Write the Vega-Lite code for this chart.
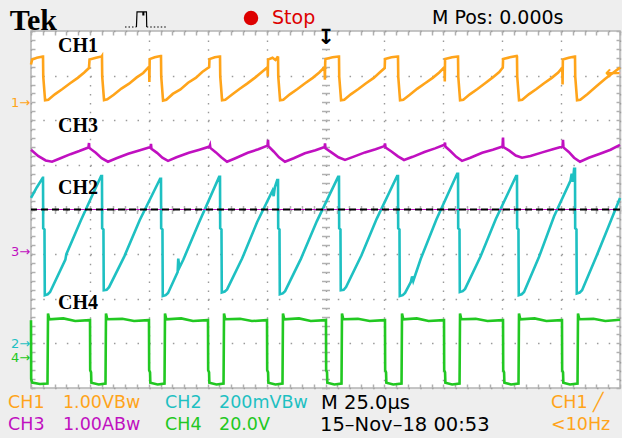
{
  "$schema": "https://vega.github.io/schema/vega-lite/v6.json",
  "width": 589,
  "height": 357,
  "autosize": {"type": "none"},
  "padding": {"left": 31, "top": 31, "right": 2, "bottom": 50},
  "background": "#eeeeee",
  "config": {
    "view": {"fill": "#ffffff", "stroke": "#b4b4b4", "strokeWidth": 1.5},
    "axis": {"labels": false, "domain": false, "ticks": false, "grid": false, "zindex": 0, "tickColor": "#b0b0b0", "tickWidth": 1.5, "gridColor": "#9a9a9a", "gridWidth": 1.4}
  },
  "datasets": {
    "waves": [
      {"ch":"CH1","t":0.0,"v":3.25},{"ch":"CH1","t":0.02,"v":3.36},{"ch":"CH1","t":0.1,"v":3.4},{"ch":"CH1","t":0.2,"v":3.43},
      {"ch":"CH1","t":0.204,"v":3.43},{"ch":"CH1","t":0.208,"v":2.98},{"ch":"CH1","t":0.239,"v":2.45},{"ch":"CH1","t":0.294,"v":2.46},{"ch":"CH1","t":0.404,"v":2.58},{"ch":"CH1","t":0.534,"v":2.7},{"ch":"CH1","t":0.664,"v":2.83},{"ch":"CH1","t":0.794,"v":2.95},{"ch":"CH1","t":0.904,"v":3.07},{"ch":"CH1","t":0.984,"v":3.17},{"ch":"CH1","t":0.994,"v":3.36},{"ch":"CH1","t":1.104,"v":3.4},{"ch":"CH1","t":1.2,"v":3.43},
      {"ch":"CH1","t":1.205,"v":3.44},{"ch":"CH1","t":1.209,"v":2.98},{"ch":"CH1","t":1.24,"v":2.45},{"ch":"CH1","t":1.295,"v":2.47},{"ch":"CH1","t":1.405,"v":2.57},{"ch":"CH1","t":1.535,"v":2.71},{"ch":"CH1","t":1.665,"v":2.82},{"ch":"CH1","t":1.795,"v":2.96},{"ch":"CH1","t":1.905,"v":3.06},{"ch":"CH1","t":2.005,"v":3.2},{"ch":"CH1","t":2.01,"v":2.86},{"ch":"CH1","t":2.015,"v":3.37},{"ch":"CH1","t":2.1,"v":3.41},{"ch":"CH1","t":2.2,"v":3.44},
      {"ch":"CH1","t":2.207,"v":3.44},{"ch":"CH1","t":2.211,"v":2.98},{"ch":"CH1","t":2.242,"v":2.44},{"ch":"CH1","t":2.297,"v":2.46},{"ch":"CH1","t":2.407,"v":2.59},{"ch":"CH1","t":2.537,"v":2.69},{"ch":"CH1","t":2.667,"v":2.84},{"ch":"CH1","t":2.797,"v":2.95},{"ch":"CH1","t":2.907,"v":3.08},{"ch":"CH1","t":3.025,"v":3.19},{"ch":"CH1","t":3.03,"v":3.37},{"ch":"CH1","t":3.12,"v":3.41},{"ch":"CH1","t":3.205,"v":3.43},
      {"ch":"CH1","t":3.209,"v":3.43},{"ch":"CH1","t":3.213,"v":2.98},{"ch":"CH1","t":3.244,"v":2.45},{"ch":"CH1","t":3.299,"v":2.46},{"ch":"CH1","t":3.409,"v":2.57},{"ch":"CH1","t":3.539,"v":2.7},{"ch":"CH1","t":3.669,"v":2.82},{"ch":"CH1","t":3.799,"v":2.95},{"ch":"CH1","t":3.909,"v":3.07},{"ch":"CH1","t":4.015,"v":3.19},{"ch":"CH1","t":4.02,"v":2.98},{"ch":"CH1","t":4.025,"v":3.36},{"ch":"CH1","t":4.1,"v":3.4},{"ch":"CH1","t":4.15,"v":3.35},{"ch":"CH1","t":4.19,"v":3.42},
      {"ch":"CH1","t":4.194,"v":3.43},{"ch":"CH1","t":4.198,"v":2.98},{"ch":"CH1","t":4.229,"v":2.45},{"ch":"CH1","t":4.284,"v":2.46},{"ch":"CH1","t":4.394,"v":2.58},{"ch":"CH1","t":4.524,"v":2.7},{"ch":"CH1","t":4.654,"v":2.83},{"ch":"CH1","t":4.784,"v":2.95},{"ch":"CH1","t":4.894,"v":3.07},{"ch":"CH1","t":4.985,"v":3.19},{"ch":"CH1","t":4.99,"v":2.91},{"ch":"CH1","t":4.995,"v":3.3},{"ch":"CH1","t":5.0,"v":3.37},{"ch":"CH1","t":5.12,"v":3.41},{"ch":"CH1","t":5.225,"v":3.43},
      {"ch":"CH1","t":5.229,"v":3.43},{"ch":"CH1","t":5.233,"v":2.98},{"ch":"CH1","t":5.264,"v":2.45},{"ch":"CH1","t":5.319,"v":2.46},{"ch":"CH1","t":5.429,"v":2.58},{"ch":"CH1","t":5.559,"v":2.7},{"ch":"CH1","t":5.689,"v":2.83},{"ch":"CH1","t":5.819,"v":2.95},{"ch":"CH1","t":5.929,"v":3.08},{"ch":"CH1","t":6.005,"v":3.17},{"ch":"CH1","t":6.01,"v":3.37},{"ch":"CH1","t":6.12,"v":3.41},{"ch":"CH1","t":6.227,"v":3.43},
      {"ch":"CH1","t":6.231,"v":3.43},{"ch":"CH1","t":6.235,"v":2.98},{"ch":"CH1","t":6.266,"v":2.45},{"ch":"CH1","t":6.321,"v":2.46},{"ch":"CH1","t":6.431,"v":2.57},{"ch":"CH1","t":6.561,"v":2.71},{"ch":"CH1","t":6.691,"v":2.83},{"ch":"CH1","t":6.821,"v":2.95},{"ch":"CH1","t":6.931,"v":3.07},{"ch":"CH1","t":7.02,"v":3.19},{"ch":"CH1","t":7.025,"v":2.87},{"ch":"CH1","t":7.03,"v":3.37},{"ch":"CH1","t":7.15,"v":3.41},{"ch":"CH1","t":7.246,"v":3.43},
      {"ch":"CH1","t":7.25,"v":3.43},{"ch":"CH1","t":7.254,"v":2.98},{"ch":"CH1","t":7.285,"v":2.45},{"ch":"CH1","t":7.34,"v":2.46},{"ch":"CH1","t":7.45,"v":2.58},{"ch":"CH1","t":7.58,"v":2.7},{"ch":"CH1","t":7.71,"v":2.83},{"ch":"CH1","t":7.84,"v":2.96},{"ch":"CH1","t":7.95,"v":3.08},{"ch":"CH1","t":8.01,"v":3.18},{"ch":"CH1","t":8.015,"v":3.37},{"ch":"CH1","t":8.13,"v":3.41},{"ch":"CH1","t":8.247,"v":3.44},
      {"ch":"CH1","t":8.251,"v":3.43},{"ch":"CH1","t":8.255,"v":2.98},{"ch":"CH1","t":8.286,"v":2.45},{"ch":"CH1","t":8.341,"v":2.46},{"ch":"CH1","t":8.451,"v":2.58},{"ch":"CH1","t":8.581,"v":2.7},{"ch":"CH1","t":8.711,"v":2.83},{"ch":"CH1","t":8.841,"v":2.95},{"ch":"CH1","t":8.951,"v":3.07},{"ch":"CH1","t":9.02,"v":3.18},{"ch":"CH1","t":9.025,"v":2.8},{"ch":"CH1","t":9.03,"v":3.36},{"ch":"CH1","t":9.13,"v":3.4},{"ch":"CH1","t":9.232,"v":3.43},
      {"ch":"CH1","t":9.236,"v":3.43},{"ch":"CH1","t":9.24,"v":2.98},{"ch":"CH1","t":9.271,"v":2.45},{"ch":"CH1","t":9.326,"v":2.46},{"ch":"CH1","t":9.45,"v":2.59},{"ch":"CH1","t":9.6,"v":2.76},{"ch":"CH1","t":9.75,"v":2.93},{"ch":"CH1","t":9.9,"v":3.08},{"ch":"CH1","t":10.0,"v":3.18},

      {"ch":"CH3","t":0.0,"v":1.34},{"ch":"CH3","t":0.12,"v":1.2},{"ch":"CH3","t":0.25,"v":1.1},{"ch":"CH3","t":0.357,"v":1.07},{"ch":"CH3","t":0.5,"v":1.15},{"ch":"CH3","t":0.67,"v":1.24},{"ch":"CH3","t":0.82,"v":1.31},{"ch":"CH3","t":0.975,"v":1.39},{"ch":"CH3","t":0.985,"v":1.49},{"ch":"CH3","t":0.99,"v":1.38},{"ch":"CH3","t":1.1,"v":1.27},{"ch":"CH3","t":1.2,"v":1.15},{"ch":"CH3","t":1.307,"v":1.07},{"ch":"CH3","t":1.45,"v":1.15},{"ch":"CH3","t":1.65,"v":1.25},{"ch":"CH3","t":1.85,"v":1.33},{"ch":"CH3","t":2.03,"v":1.4},{"ch":"CH3","t":2.037,"v":1.47},{"ch":"CH3","t":2.045,"v":1.36},{"ch":"CH3","t":2.14,"v":1.27},{"ch":"CH3","t":2.23,"v":1.16},{"ch":"CH3","t":2.326,"v":1.09},{"ch":"CH3","t":2.47,"v":1.17},{"ch":"CH3","t":2.68,"v":1.27},{"ch":"CH3","t":2.86,"v":1.34},{"ch":"CH3","t":3.03,"v":1.41},{"ch":"CH3","t":3.039,"v":1.44},{"ch":"CH3","t":3.045,"v":1.38},{"ch":"CH3","t":3.14,"v":1.28},{"ch":"CH3","t":3.23,"v":1.17},{"ch":"CH3","t":3.328,"v":1.07},{"ch":"CH3","t":3.47,"v":1.15},{"ch":"CH3","t":3.68,"v":1.27},{"ch":"CH3","t":3.86,"v":1.35},{"ch":"CH3","t":4.015,"v":1.43},{"ch":"CH3","t":4.024,"v":1.56},{"ch":"CH3","t":4.03,"v":1.42},{"ch":"CH3","t":4.12,"v":1.3},{"ch":"CH3","t":4.21,"v":1.17},{"ch":"CH3","t":4.312,"v":1.07},{"ch":"CH3","t":4.46,"v":1.15},{"ch":"CH3","t":4.65,"v":1.26},{"ch":"CH3","t":4.83,"v":1.33},{"ch":"CH3","t":4.985,"v":1.4},{"ch":"CH3","t":4.992,"v":1.48},{"ch":"CH3","t":5.0,"v":1.37},{"ch":"CH3","t":5.1,"v":1.28},{"ch":"CH3","t":5.22,"v":1.17},{"ch":"CH3","t":5.331,"v":1.11},{"ch":"CH3","t":5.47,"v":1.18},{"ch":"CH3","t":5.67,"v":1.28},{"ch":"CH3","t":5.85,"v":1.35},{"ch":"CH3","t":6.0,"v":1.42},{"ch":"CH3","t":6.01,"v":1.48},{"ch":"CH3","t":6.02,"v":1.39},{"ch":"CH3","t":6.12,"v":1.3},{"ch":"CH3","t":6.23,"v":1.19},{"ch":"CH3","t":6.333,"v":1.11},{"ch":"CH3","t":6.48,"v":1.18},{"ch":"CH3","t":6.68,"v":1.29},{"ch":"CH3","t":6.86,"v":1.37},{"ch":"CH3","t":7.02,"v":1.45},{"ch":"CH3","t":7.029,"v":1.5},{"ch":"CH3","t":7.035,"v":1.41},{"ch":"CH3","t":7.12,"v":1.31},{"ch":"CH3","t":7.22,"v":1.18},{"ch":"CH3","t":7.317,"v":1.09},{"ch":"CH3","t":7.46,"v":1.16},{"ch":"CH3","t":7.66,"v":1.27},{"ch":"CH3","t":7.84,"v":1.34},{"ch":"CH3","t":8.005,"v":1.41},{"ch":"CH3","t":8.014,"v":1.61},{"ch":"CH3","t":8.02,"v":1.4},{"ch":"CH3","t":8.12,"v":1.32},{"ch":"CH3","t":8.23,"v":1.21},{"ch":"CH3","t":8.336,"v":1.16},{"ch":"CH3","t":8.48,"v":1.2},{"ch":"CH3","t":8.68,"v":1.28},{"ch":"CH3","t":8.86,"v":1.35},{"ch":"CH3","t":9.025,"v":1.41},{"ch":"CH3","t":9.032,"v":1.56},{"ch":"CH3","t":9.04,"v":1.39},{"ch":"CH3","t":9.13,"v":1.29},{"ch":"CH3","t":9.22,"v":1.16},{"ch":"CH3","t":9.321,"v":1.07},{"ch":"CH3","t":9.47,"v":1.16},{"ch":"CH3","t":9.66,"v":1.25},{"ch":"CH3","t":9.84,"v":1.34},{"ch":"CH3","t":10.0,"v":1.45},

      {"ch":"CH2","t":0.0,"v":0.26},{"ch":"CH2","t":0.1,"v":0.5},{"ch":"CH2","t":0.2,"v":0.71},
      {"ch":"CH2","t":0.204,"v":0.71},{"ch":"CH2","t":0.207,"v":-0.42},{"ch":"CH2","t":0.229,"v":-0.45},{"ch":"CH2","t":0.234,"v":-1.92},{"ch":"CH2","t":0.284,"v":-1.9},{"ch":"CH2","t":0.324,"v":-1.85},{"ch":"CH2","t":0.584,"v":-1.12},{"ch":"CH2","t":0.6,"v":-1.0},{"ch":"CH2","t":0.844,"v":-0.25},{"ch":"CH2","t":1.19,"v":0.75},
      {"ch":"CH2","t":1.205,"v":0.75},{"ch":"CH2","t":1.208,"v":-0.42},{"ch":"CH2","t":1.23,"v":-0.45},{"ch":"CH2","t":1.235,"v":-1.81},{"ch":"CH2","t":1.285,"v":-1.8},{"ch":"CH2","t":1.325,"v":-1.74},{"ch":"CH2","t":1.585,"v":-1.05},{"ch":"CH2","t":1.845,"v":-0.24},{"ch":"CH2","t":2.192,"v":0.69},
      {"ch":"CH2","t":2.207,"v":0.69},{"ch":"CH2","t":2.21,"v":-0.42},{"ch":"CH2","t":2.232,"v":-0.45},{"ch":"CH2","t":2.237,"v":-1.94},{"ch":"CH2","t":2.287,"v":-1.92},{"ch":"CH2","t":2.327,"v":-1.87},{"ch":"CH2","t":2.49,"v":-1.4},{"ch":"CH2","t":2.5,"v":-1.1},{"ch":"CH2","t":2.52,"v":-1.3},{"ch":"CH2","t":2.587,"v":-1.12},{"ch":"CH2","t":2.847,"v":-0.31},{"ch":"CH2","t":3.194,"v":0.73},
      {"ch":"CH2","t":3.209,"v":0.73},{"ch":"CH2","t":3.212,"v":-0.42},{"ch":"CH2","t":3.234,"v":-0.45},{"ch":"CH2","t":3.239,"v":-1.86},{"ch":"CH2","t":3.289,"v":-1.84},{"ch":"CH2","t":3.329,"v":-1.79},{"ch":"CH2","t":3.584,"v":-1.1},{"ch":"CH2","t":3.84,"v":-0.28},{"ch":"CH2","t":4.1,"v":0.42},{"ch":"CH2","t":4.12,"v":0.3},{"ch":"CH2","t":4.14,"v":0.5},{"ch":"CH2","t":4.18,"v":0.66},
      {"ch":"CH2","t":4.194,"v":0.66},{"ch":"CH2","t":4.197,"v":-0.42},{"ch":"CH2","t":4.219,"v":-0.45},{"ch":"CH2","t":4.224,"v":-1.9},{"ch":"CH2","t":4.274,"v":-1.88},{"ch":"CH2","t":4.314,"v":-1.83},{"ch":"CH2","t":4.584,"v":-1.1},{"ch":"CH2","t":4.854,"v":-0.26},{"ch":"CH2","t":5.214,"v":0.73},
      {"ch":"CH2","t":5.229,"v":0.73},{"ch":"CH2","t":5.232,"v":-0.42},{"ch":"CH2","t":5.254,"v":-0.45},{"ch":"CH2","t":5.259,"v":-1.81},{"ch":"CH2","t":5.309,"v":-1.8},{"ch":"CH2","t":5.349,"v":-1.74},{"ch":"CH2","t":5.609,"v":-1.03},{"ch":"CH2","t":5.869,"v":-0.21},{"ch":"CH2","t":6.216,"v":0.75},
      {"ch":"CH2","t":6.231,"v":0.75},{"ch":"CH2","t":6.234,"v":-0.42},{"ch":"CH2","t":6.256,"v":-0.45},{"ch":"CH2","t":6.261,"v":-1.94},{"ch":"CH2","t":6.311,"v":-1.92},{"ch":"CH2","t":6.351,"v":-1.87},{"ch":"CH2","t":6.45,"v":-1.62},{"ch":"CH2","t":6.47,"v":-1.5},{"ch":"CH2","t":6.49,"v":-1.6},{"ch":"CH2","t":6.616,"v":-1.11},{"ch":"CH2","t":6.881,"v":-0.23},{"ch":"CH2","t":7.235,"v":0.8},
      {"ch":"CH2","t":7.25,"v":0.8},{"ch":"CH2","t":7.253,"v":-0.42},{"ch":"CH2","t":7.275,"v":-0.45},{"ch":"CH2","t":7.28,"v":-1.85},{"ch":"CH2","t":7.33,"v":-1.83},{"ch":"CH2","t":7.37,"v":-1.78},{"ch":"CH2","t":7.63,"v":-1.06},{"ch":"CH2","t":7.89,"v":-0.22},{"ch":"CH2","t":8.236,"v":0.75},
      {"ch":"CH2","t":8.251,"v":0.75},{"ch":"CH2","t":8.254,"v":-0.42},{"ch":"CH2","t":8.276,"v":-0.45},{"ch":"CH2","t":8.281,"v":-1.92},{"ch":"CH2","t":8.331,"v":-1.9},{"ch":"CH2","t":8.371,"v":-1.85},{"ch":"CH2","t":8.626,"v":-1.06},{"ch":"CH2","t":8.881,"v":-0.15},{"ch":"CH2","t":9.16,"v":0.65},{"ch":"CH2","t":9.18,"v":0.8},{"ch":"CH2","t":9.2,"v":0.62},{"ch":"CH2","t":9.221,"v":0.91},
      {"ch":"CH2","t":9.236,"v":0.91},{"ch":"CH2","t":9.239,"v":-0.42},{"ch":"CH2","t":9.261,"v":-0.45},{"ch":"CH2","t":9.266,"v":-1.88},{"ch":"CH2","t":9.316,"v":-1.86},{"ch":"CH2","t":9.356,"v":-1.81},{"ch":"CH2","t":9.6,"v":-1.05},{"ch":"CH2","t":9.8,"v":-0.4},{"ch":"CH2","t":10.0,"v":0.26},

      {"ch":"CH4","t":0.0,"v":-2.48},{"ch":"CH4","t":0.003,"v":-3.8},{"ch":"CH4","t":0.02,"v":-3.88},{"ch":"CH4","t":0.15,"v":-3.91},{"ch":"CH4","t":0.28,"v":-3.9},
      {"ch":"CH4","t":0.289,"v":-2.33},{"ch":"CH4","t":0.31,"v":-2.46},{"ch":"CH4","t":0.55,"v":-2.44},{"ch":"CH4","t":0.75,"v":-2.5},{"ch":"CH4","t":0.997,"v":-2.48},
      {"ch":"CH4","t":1.002,"v":-2.48},{"ch":"CH4","t":1.005,"v":-3.6},{"ch":"CH4","t":1.02,"v":-3.65},{"ch":"CH4","t":1.025,"v":-3.88},{"ch":"CH4","t":1.15,"v":-3.92},{"ch":"CH4","t":1.265,"v":-3.9},
      {"ch":"CH4","t":1.273,"v":-2.33},{"ch":"CH4","t":1.295,"v":-2.46},{"ch":"CH4","t":1.55,"v":-2.45},{"ch":"CH4","t":1.75,"v":-2.5},{"ch":"CH4","t":1.998,"v":-2.48},
      {"ch":"CH4","t":2.003,"v":-2.48},{"ch":"CH4","t":2.006,"v":-3.6},{"ch":"CH4","t":2.021,"v":-3.65},{"ch":"CH4","t":2.026,"v":-3.88},{"ch":"CH4","t":2.15,"v":-3.92},{"ch":"CH4","t":2.267,"v":-3.9},
      {"ch":"CH4","t":2.275,"v":-2.33},{"ch":"CH4","t":2.297,"v":-2.46},{"ch":"CH4","t":2.55,"v":-2.44},{"ch":"CH4","t":2.75,"v":-2.5},{"ch":"CH4","t":3.0,"v":-2.48},
      {"ch":"CH4","t":3.005,"v":-2.48},{"ch":"CH4","t":3.008,"v":-3.6},{"ch":"CH4","t":3.023,"v":-3.65},{"ch":"CH4","t":3.028,"v":-3.88},{"ch":"CH4","t":3.15,"v":-3.92},{"ch":"CH4","t":3.269,"v":-3.9},
      {"ch":"CH4","t":3.277,"v":-2.33},{"ch":"CH4","t":3.299,"v":-2.46},{"ch":"CH4","t":3.55,"v":-2.45},{"ch":"CH4","t":3.75,"v":-2.5},{"ch":"CH4","t":4.002,"v":-2.48},
      {"ch":"CH4","t":4.007,"v":-2.48},{"ch":"CH4","t":4.01,"v":-3.6},{"ch":"CH4","t":4.025,"v":-3.65},{"ch":"CH4","t":4.03,"v":-3.88},{"ch":"CH4","t":4.15,"v":-3.92},{"ch":"CH4","t":4.27,"v":-3.9},
      {"ch":"CH4","t":4.278,"v":-2.33},{"ch":"CH4","t":4.3,"v":-2.46},{"ch":"CH4","t":4.55,"v":-2.44},{"ch":"CH4","t":4.75,"v":-2.5},{"ch":"CH4","t":5.003,"v":-2.48},
      {"ch":"CH4","t":5.008,"v":-2.48},{"ch":"CH4","t":5.011,"v":-3.6},{"ch":"CH4","t":5.026,"v":-3.65},{"ch":"CH4","t":5.031,"v":-3.88},{"ch":"CH4","t":5.15,"v":-3.92},{"ch":"CH4","t":5.272,"v":-3.9},
      {"ch":"CH4","t":5.28,"v":-2.33},{"ch":"CH4","t":5.302,"v":-2.46},{"ch":"CH4","t":5.55,"v":-2.45},{"ch":"CH4","t":5.75,"v":-2.5},{"ch":"CH4","t":6.005,"v":-2.48},
      {"ch":"CH4","t":6.01,"v":-2.48},{"ch":"CH4","t":6.013,"v":-3.6},{"ch":"CH4","t":6.028,"v":-3.65},{"ch":"CH4","t":6.033,"v":-3.88},{"ch":"CH4","t":6.15,"v":-3.92},{"ch":"CH4","t":6.291,"v":-3.9},
      {"ch":"CH4","t":6.299,"v":-2.33},{"ch":"CH4","t":6.321,"v":-2.46},{"ch":"CH4","t":6.55,"v":-2.44},{"ch":"CH4","t":6.75,"v":-2.5},{"ch":"CH4","t":7.007,"v":-2.48},
      {"ch":"CH4","t":7.012,"v":-2.48},{"ch":"CH4","t":7.015,"v":-3.6},{"ch":"CH4","t":7.03,"v":-3.65},{"ch":"CH4","t":7.035,"v":-3.88},{"ch":"CH4","t":7.15,"v":-3.92},{"ch":"CH4","t":7.276,"v":-3.9},
      {"ch":"CH4","t":7.284,"v":-2.33},{"ch":"CH4","t":7.306,"v":-2.46},{"ch":"CH4","t":7.55,"v":-2.45},{"ch":"CH4","t":7.75,"v":-2.5},{"ch":"CH4","t":8.009,"v":-2.48},
      {"ch":"CH4","t":8.014,"v":-2.48},{"ch":"CH4","t":8.017,"v":-3.6},{"ch":"CH4","t":8.032,"v":-3.65},{"ch":"CH4","t":8.037,"v":-3.88},{"ch":"CH4","t":8.15,"v":-3.92},{"ch":"CH4","t":8.277,"v":-3.9},
      {"ch":"CH4","t":8.285,"v":-2.33},{"ch":"CH4","t":8.307,"v":-2.46},{"ch":"CH4","t":8.55,"v":-2.44},{"ch":"CH4","t":8.75,"v":-2.5},{"ch":"CH4","t":9.01,"v":-2.48},
      {"ch":"CH4","t":9.015,"v":-2.48},{"ch":"CH4","t":9.018,"v":-3.6},{"ch":"CH4","t":9.033,"v":-3.65},{"ch":"CH4","t":9.038,"v":-3.88},{"ch":"CH4","t":9.15,"v":-3.92},{"ch":"CH4","t":9.279,"v":-3.9},
      {"ch":"CH4","t":9.287,"v":-2.33},{"ch":"CH4","t":9.309,"v":-2.46},{"ch":"CH4","t":9.55,"v":-2.45},{"ch":"CH4","t":9.75,"v":-2.5},{"ch":"CH4","t":10.0,"v":-2.47}
    ],
    "plotLabels": [
      {"txt":"CH1","t":0.458,"v":3.664},
      {"txt":"CH3","t":0.458,"v":1.871},
      {"txt":"CH2","t":0.458,"v":0.482},
      {"txt":"CH4","t":0.458,"v":-2.096}
    ],
    "markers": [
      {"txt":"1→","ch":"CH1","t":-0.015,"v":2.387},
      {"txt":"3→","ch":"CH3","t":-0.015,"v":-0.952},
      {"txt":"2→","ch":"CH2","t":-0.015,"v":-3.02},
      {"txt":"4→","ch":"CH4","t":-0.015,"v":-3.33}
    ],
    "trig": [
      {"txt":"←","ch":"CH1","t":9.88,"v":3.07}
    ],
    "trigTop": [
      {"txt":"↧","t":5.008,"v":3.84}
    ],
    "header": [
      {"txt":"Stop","ch":"R","t":4.092,"v":4.291},
      {"txt":"M Pos: 0.000s","ch":"K","t":6.808,"v":4.291}
    ],
    "footer": [
      {"txt":"CH1","ch":"CH1","t":-0.39,"v":-4.336},
      {"txt":"1.00VBw","ch":"CH1","t":0.543,"v":-4.336},
      {"txt":"CH2","ch":"CH2","t":2.275,"v":-4.336},
      {"txt":"200mVBw","ch":"CH2","t":3.192,"v":-4.336},
      {"txt":"CH1 ╱","ch":"CH1","t":8.829,"v":-4.336},
      {"txt":"CH3","ch":"CH3","t":-0.39,"v":-4.829},
      {"txt":"1.00ABw","ch":"CH3","t":0.543,"v":-4.829},
      {"txt":"CH4","ch":"CH4","t":2.275,"v":-4.829},
      {"txt":"20.0V","ch":"CH4","t":3.192,"v":-4.829},
      {"txt":"<10Hz","ch":"CH1","t":8.829,"v":-4.829}
    ],
    "footerBlack": [
      {"txt":"M 25.0µs","t":4.924,"v":-4.336},
      {"txt":"15–Nov–18 00:53","t":4.907,"v":-4.829}
    ]
  },
  "layer": [
    {
      "data": {"name": "waves"},
      "mark": {"type": "line", "strokeWidth": 2.6, "strokeJoin": "miter", "strokeCap": "butt"},
      "encoding": {
        "x": {"field": "t", "type": "quantitative", "scale": {"domain": [0, 10], "nice": false, "zero": false},
              "axis": {"orient": "bottom", "title": null, "values": [0,1,2,3,4,5,6,7,8,9,10], "grid": true, "gridDash": [1.5, 7.43], "ticks": false, "labels": false, "domain": false}},
        "y": {"field": "v", "type": "quantitative", "scale": {"domain": [-4, 4], "nice": false, "zero": false},
              "axis": {"orient": "left", "title": null, "values": [-4,-3,-2,-1,0,1,2,3,4], "grid": true, "gridDash": [1.5, 10.28], "ticks": false, "labels": false, "domain": false}},
        "color": {"field": "ch", "type": "nominal", "scale": {"domain": ["CH1","CH2","CH3","CH4","K","R"], "range": ["#ffa41a","#1ec0c2","#c010c0","#22c822","#000000","#dd0000"]}, "legend": null},
        "order": {"value": null}
      }
    },
    {
      "data": {"values": [{"v": 0}]},
      "mark": {"type": "rule", "color": "#c010c0", "strokeWidth": 1.2},
      "encoding": {"y": {"field": "v", "type": "quantitative", "scale": {"domain": [-4, 4], "nice": false, "zero": false}, "axis": null}}
    },
    {
      "data": {"values": [{"v": 0}]},
      "mark": {"type": "rule", "color": "#000000", "strokeWidth": 2, "strokeDash": [7, 4]},
      "encoding": {"y": {"field": "v", "type": "quantitative", "scale": {"domain": [-4, 4], "nice": false, "zero": false}, "axis": null}}
    },
    {
      "data": {"name": "plotLabels"},
      "mark": {"type": "text", "font": "Liberation Serif", "fontWeight": "bold", "fontSize": 20, "align": "left", "baseline": "middle", "color": "#000000"},
      "encoding": {
        "x": {"field": "t", "type": "quantitative", "scale": {"domain": [0, 10], "nice": false, "zero": false},
              "axis": {"orient": "bottom", "title": null, "values": [0,0.2,0.4,0.6,0.8,1,1.2,1.4,1.6,1.8,2,2.2,2.4,2.6,2.8,3,3.2,3.4,3.6,3.8,4,4.2,4.4,4.6,4.8,5,5.2,5.4,5.6,5.8,6,6.2,6.4,6.6,6.8,7,7.2,7.4,7.6,7.8,8,8.2,8.4,8.6,8.8,9,9.2,9.4,9.6,9.8,10], "ticks": true, "tickSize": -4, "labels": false, "domain": false, "grid": false}},
        "y": {"field": "v", "type": "quantitative", "scale": {"domain": [-4, 4], "nice": false, "zero": false},
              "axis": {"orient": "left", "title": null, "values": [-4,-3.8,-3.6,-3.4,-3.2,-3,-2.8,-2.6,-2.4,-2.2,-2,-1.8,-1.6,-1.4,-1.2,-1,-0.8,-0.6,-0.4,-0.2,0,0.2,0.4,0.6,0.8,1,1.2,1.4,1.6,1.8,2,2.2,2.4,2.6,2.8,3,3.2,3.4,3.6,3.8,4], "ticks": true, "tickSize": -4, "labels": false, "domain": false, "grid": false}},
        "text": {"field": "txt"}
      }
    },
    {
      "data": {"name": "markers"},
      "mark": {"type": "text", "font": "DejaVu Sans", "fontSize": 13, "align": "right", "baseline": "middle"},
      "encoding": {
        "x": {"field": "t", "type": "quantitative", "scale": {"domain": [0, 10], "nice": false, "zero": false},
              "axis": {"orient": "top", "title": null, "values": [0,0.2,0.4,0.6,0.8,1,1.2,1.4,1.6,1.8,2,2.2,2.4,2.6,2.8,3,3.2,3.4,3.6,3.8,4,4.2,4.4,4.6,4.8,5,5.2,5.4,5.6,5.8,6,6.2,6.4,6.6,6.8,7,7.2,7.4,7.6,7.8,8,8.2,8.4,8.6,8.8,9,9.2,9.4,9.6,9.8,10], "ticks": true, "tickSize": -4, "labels": false, "domain": false, "grid": false}},
        "y": {"field": "v", "type": "quantitative", "scale": {"domain": [-4, 4], "nice": false, "zero": false},
              "axis": {"orient": "right", "title": null, "values": [-4,-3.8,-3.6,-3.4,-3.2,-3,-2.8,-2.6,-2.4,-2.2,-2,-1.8,-1.6,-1.4,-1.2,-1,-0.8,-0.6,-0.4,-0.2,0,0.2,0.4,0.6,0.8,1,1.2,1.4,1.6,1.8,2,2.2,2.4,2.6,2.8,3,3.2,3.4,3.6,3.8,4], "ticks": true, "tickSize": -4, "labels": false, "domain": false, "grid": false}},
        "text": {"field": "txt"},
        "color": {"field": "ch", "type": "nominal", "scale": {"domain": ["CH1","CH2","CH3","CH4","K","R"], "range": ["#ffa41a","#1ec0c2","#c010c0","#22c822","#000000","#dd0000"]}, "legend": null}
      }
    },
    {
      "data": {"name": "trig"},
      "mark": {"type": "text", "font": "DejaVu Sans", "fontWeight": "bold", "fontSize": 19, "align": "center", "baseline": "middle"},
      "encoding": {
        "x": {"field": "t", "type": "quantitative", "scale": {"domain": [0, 10], "nice": false, "zero": false},
              "axis": {"orient": "bottom", "offset": -178.5, "title": null, "values": [0,0.2,0.4,0.6,0.8,1,1.2,1.4,1.6,1.8,2,2.2,2.4,2.6,2.8,3,3.2,3.4,3.6,3.8,4,4.2,4.4,4.6,4.8,5,5.2,5.4,5.6,5.8,6,6.2,6.4,6.6,6.8,7,7.2,7.4,7.6,7.8,8,8.2,8.4,8.6,8.8,9,9.2,9.4,9.6,9.8,10], "ticks": true, "tickSize": 4, "labels": false, "domain": false, "grid": false}},
        "y": {"field": "v", "type": "quantitative", "scale": {"domain": [-4, 4], "nice": false, "zero": false},
              "axis": {"orient": "left", "offset": -294.5, "title": null, "values": [-4,-3.8,-3.6,-3.4,-3.2,-3,-2.8,-2.6,-2.4,-2.2,-2,-1.8,-1.6,-1.4,-1.2,-1,-0.8,-0.6,-0.4,-0.2,0,0.2,0.4,0.6,0.8,1,1.2,1.4,1.6,1.8,2,2.2,2.4,2.6,2.8,3,3.2,3.4,3.6,3.8,4], "ticks": true, "tickSize": 4, "labels": false, "domain": false, "grid": false}},
        "text": {"field": "txt"},
        "color": {"field": "ch", "type": "nominal", "scale": {"domain": ["CH1","CH2","CH3","CH4","K","R"], "range": ["#ffa41a","#1ec0c2","#c010c0","#22c822","#000000","#dd0000"]}, "legend": null}
      }
    },
    {
      "data": {"name": "header"},
      "mark": {"type": "text", "font": "DejaVu Sans", "fontSize": 19, "align": "left", "baseline": "middle"},
      "encoding": {
        "x": {"field": "t", "type": "quantitative", "scale": {"domain": [0, 10], "nice": false, "zero": false},
              "axis": {"orient": "bottom", "offset": -178.5, "title": null, "values": [0,0.2,0.4,0.6,0.8,1,1.2,1.4,1.6,1.8,2,2.2,2.4,2.6,2.8,3,3.2,3.4,3.6,3.8,4,4.2,4.4,4.6,4.8,5,5.2,5.4,5.6,5.8,6,6.2,6.4,6.6,6.8,7,7.2,7.4,7.6,7.8,8,8.2,8.4,8.6,8.8,9,9.2,9.4,9.6,9.8,10], "ticks": true, "tickSize": -4, "labels": false, "domain": false, "grid": false}},
        "y": {"field": "v", "type": "quantitative", "scale": {"domain": [-4, 4], "nice": false, "zero": false},
              "axis": {"orient": "left", "offset": -294.5, "title": null, "values": [-4,-3.8,-3.6,-3.4,-3.2,-3,-2.8,-2.6,-2.4,-2.2,-2,-1.8,-1.6,-1.4,-1.2,-1,-0.8,-0.6,-0.4,-0.2,0,0.2,0.4,0.6,0.8,1,1.2,1.4,1.6,1.8,2,2.2,2.4,2.6,2.8,3,3.2,3.4,3.6,3.8,4], "ticks": true, "tickSize": -4, "labels": false, "domain": false, "grid": false}},
        "text": {"field": "txt"},
        "color": {"field": "ch", "type": "nominal", "scale": {"domain": ["CH1","CH2","CH3","CH4","K","R"], "range": ["#ffa41a","#1ec0c2","#c010c0","#22c822","#000000","#dd0000"]}, "legend": null}
      }
    },
    {
      "data": {"name": "trigTop"},
      "mark": {"type": "text", "font": "DejaVu Sans", "fontWeight": "bold", "fontSize": 21, "align": "center", "baseline": "middle", "color": "#000000"},
      "encoding": {
        "x": {"field": "t", "type": "quantitative", "scale": {"domain": [0, 10], "nice": false, "zero": false}, "axis": null},
        "y": {"field": "v", "type": "quantitative", "scale": {"domain": [-4, 4], "nice": false, "zero": false}, "axis": null},
        "text": {"field": "txt"}
      }
    },
    {
      "data": {"values": [{"txt": "Tek", "t": -0.36, "v": 4.03}]},
      "mark": {"type": "text", "font": "Liberation Serif", "fontWeight": "bold", "fontSize": 30, "align": "left", "baseline": "alphabetic", "color": "#000000"},
      "encoding": {
        "x": {"field": "t", "type": "quantitative", "scale": {"domain": [0, 10], "nice": false, "zero": false}, "axis": null},
        "y": {"field": "v", "type": "quantitative", "scale": {"domain": [-4, 4], "nice": false, "zero": false}, "axis": null},
        "text": {"field": "txt"}
      }
    },
    {
      "data": {"name": "footer"},
      "mark": {"type": "text", "font": "DejaVu Sans", "fontSize": 17.5, "align": "left", "baseline": "middle"},
      "encoding": {
        "x": {"field": "t", "type": "quantitative", "scale": {"domain": [0, 10], "nice": false, "zero": false}, "axis": null},
        "y": {"field": "v", "type": "quantitative", "scale": {"domain": [-4, 4], "nice": false, "zero": false}, "axis": null},
        "text": {"field": "txt"},
        "color": {"field": "ch", "type": "nominal", "scale": {"domain": ["CH1","CH2","CH3","CH4","K","R"], "range": ["#ffa41a","#1ec0c2","#c010c0","#22c822","#000000","#dd0000"]}, "legend": null}
      }
    },
    {
      "data": {"name": "footerBlack"},
      "mark": {"type": "text", "font": "DejaVu Sans", "fontSize": 19.5, "align": "left", "baseline": "middle", "color": "#000000"},
      "encoding": {
        "x": {"field": "t", "type": "quantitative", "scale": {"domain": [0, 10], "nice": false, "zero": false}, "axis": null},
        "y": {"field": "v", "type": "quantitative", "scale": {"domain": [-4, 4], "nice": false, "zero": false}, "axis": null},
        "text": {"field": "txt"}
      }
    },
    {
      "data": {"values": [{"t": 3.735, "v": 4.291}]},
      "mark": {"type": "point", "shape": "circle", "filled": true, "size": 210, "color": "#dd0000", "opacity": 1},
      "encoding": {
        "x": {"field": "t", "type": "quantitative", "scale": {"domain": [0, 10], "nice": false, "zero": false}, "axis": null},
        "y": {"field": "v", "type": "quantitative", "scale": {"domain": [-4, 4], "nice": false, "zero": false}, "axis": null}
      }
    },
    {
      "data": {"values": [
        {"t": 1.79, "v": 4.09}, {"t": 1.80, "v": 4.43}, {"t": 1.90, "v": 4.43}, {"t": 1.90, "v": 4.36}, {"t": 1.915, "v": 4.36}, {"t": 1.915, "v": 4.43}, {"t": 1.96, "v": 4.43}, {"t": 1.965, "v": 4.09}
      ]},
      "mark": {"type": "line", "color": "#000000", "strokeWidth": 1.2},
      "encoding": {
        "x": {"field": "t", "type": "quantitative", "scale": {"domain": [0, 10], "nice": false, "zero": false}, "axis": null},
        "y": {"field": "v", "type": "quantitative", "scale": {"domain": [-4, 4], "nice": false, "zero": false}, "axis": null},
        "order": {"value": null}
      }
    },
    {
      "data": {"values": [
        {"seg": "a", "t": 1.596, "v": 4.09}, {"seg": "a", "t": 1.79, "v": 4.09},
        {"seg": "b", "t": 1.965, "v": 4.09}, {"seg": "b", "t": 2.31, "v": 4.09}
      ]},
      "mark": {"type": "line", "color": "#000000", "strokeWidth": 1.2, "strokeDash": [1.5, 2]},
      "encoding": {
        "x": {"field": "t", "type": "quantitative", "scale": {"domain": [0, 10], "nice": false, "zero": false}, "axis": null},
        "y": {"field": "v", "type": "quantitative", "scale": {"domain": [-4, 4], "nice": false, "zero": false}, "axis": null},
        "detail": {"field": "seg", "type": "nominal"}
      }
    }
  ],
  "resolve": {"axis": {"x": "independent", "y": "independent"}}
}
